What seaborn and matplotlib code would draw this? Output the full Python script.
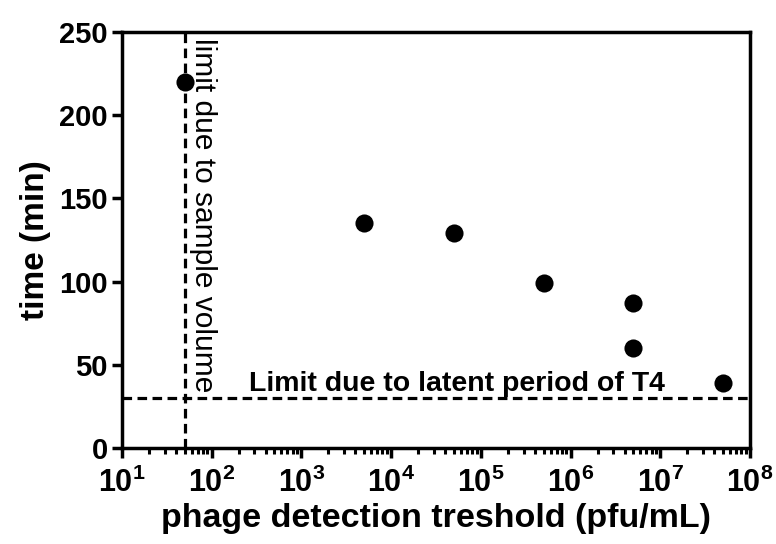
import matplotlib
matplotlib.use("Agg")
import matplotlib.pyplot as plt
import matplotlib.ticker as mticker
import numpy as np
import pandas as pd
import seaborn as sns

# detection threshold (pfu/mL) vs. time to detection (min)
threshold = [5e1, 5e3, 5e4, 5e5, 5e6, 5e6, 5e7]
time_min = [220, 135, 129, 99, 87, 60, 39]

sample_volume_limit = 5e1   # pfu/mL
latent_period_limit = 30    # min

x_ticks = [1e1, 1e2, 1e3, 1e4, 1e5, 1e6, 1e7, 1e8]
y_ticks = [0, 50, 100, 150, 200, 250]

sns.set_theme(style="ticks")
plt.rcParams["font.family"] = ["Liberation Sans", "DejaVu Sans"]
plt.rcParams["font.weight"] = "bold"
plt.rcParams["text.color"] = "black"
plt.rcParams["axes.labelcolor"] = "black"
plt.rcParams["xtick.color"] = "black"
plt.rcParams["ytick.color"] = "black"
plt.rcParams["mathtext.fontset"] = "custom"
plt.rcParams["mathtext.rm"] = "Liberation Sans:bold"
plt.rcParams["mathtext.bf"] = "Liberation Sans:bold"
plt.rcParams["mathtext.default"] = "bf"

df = pd.DataFrame({"threshold": threshold, "time": time_min})

fig = plt.figure(figsize=(7.76, 5.44), dpi=100)
ax = fig.add_axes([0.157, 0.1765, 0.8095, 0.7645])

sns.scatterplot(data=df, x="threshold", y="time", ax=ax, color="black",
                s=170, edgecolor="black", linewidth=0, zorder=3)

ax.set_xscale("log")
ax.set_xlim(1e1, 1e8)
ax.set_ylim(0, 250)

dash = (0, (3.0, 1.7))
ax.axvline(sample_volume_limit, color="black", lw=2.3, linestyle=dash, zorder=2)
ax.axhline(latent_period_limit, color="black", lw=2.3, linestyle=dash, zorder=2)

ax.annotate("limit due to sample volume", xy=(sample_volume_limit, 250),
            xytext=(3.5, -4), textcoords="offset points",
            rotation=-90, ha="left", va="top", fontsize=21.5, fontweight="normal")
ax.text(5.4e4, 34, "Limit due to latent period of T4",
        ha="center", va="baseline", fontsize=20.5, fontweight="bold")

ax.set_xticks(x_ticks)
ax.xaxis.set_major_formatter(mticker.LogFormatterMathtext())
ax.xaxis.set_minor_locator(mticker.LogLocator(base=10, subs=np.arange(2, 10), numticks=20))
ax.xaxis.set_minor_formatter(mticker.NullFormatter())
ax.set_yticks(y_ticks)

ax.set_xlabel("phage detection treshold (pfu/mL)", fontsize=24.5, fontweight="bold", labelpad=3)
ax.set_ylabel("time (min)", fontsize=24, fontweight="bold", labelpad=6)

for sp in ax.spines.values():
    sp.set_linewidth(2.5)
    sp.set_color("black")

ax.tick_params(axis="both", which="major", direction="out", length=7, width=2.5,
               labelsize=21, pad=3)
ax.tick_params(axis="x", which="major", labelsize=22, pad=7)
ax.tick_params(axis="x", which="minor", direction="out", length=4.5, width=2.2)
ax.tick_params(top=False, right=False)
for lbl in ax.get_xticklabels() + ax.get_yticklabels():
    lbl.set_fontweight("bold")

fig.savefig("out.png", dpi=100)
